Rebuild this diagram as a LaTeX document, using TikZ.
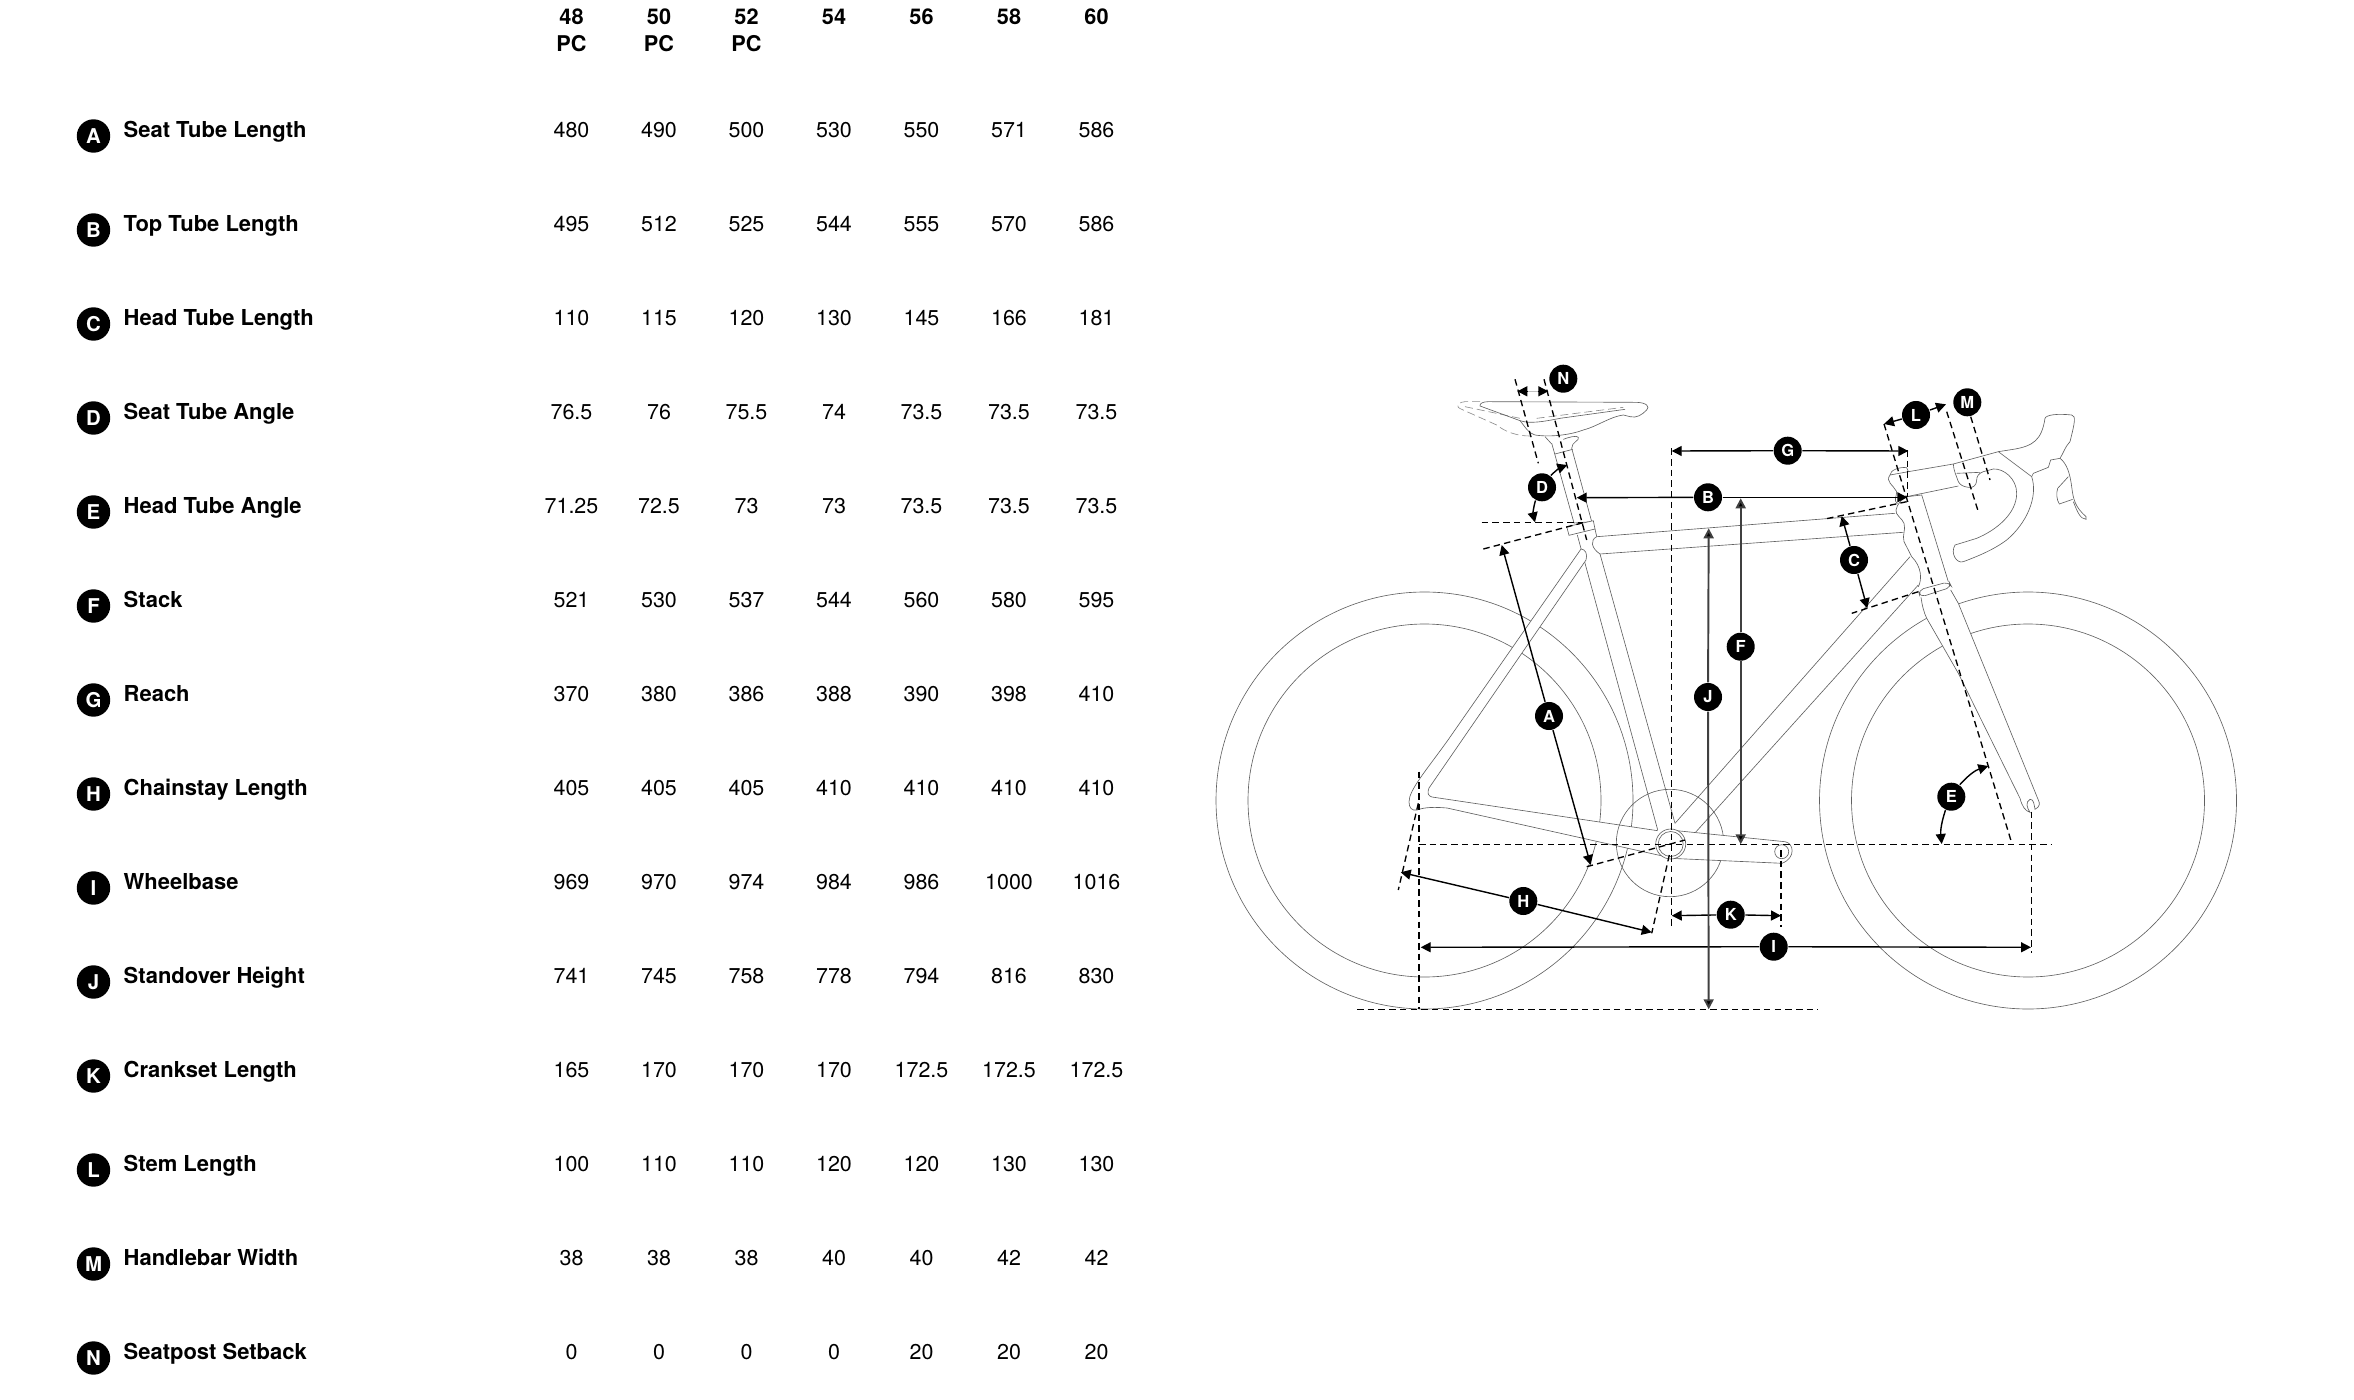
\documentclass[tikz,border=0pt]{standalone}
\usepackage{fontspec}
\setmainfont{TeX Gyre Heros}
\usetikzlibrary{arrows.meta}

\begin{document}
\begin{tikzpicture}[x=0.01cm,y=-0.01cm,
    frame part/.style={draw=black!62,line width=0.18pt},
    ghost part/.style={draw=black!45,line width=0.18pt,dash pattern=on 0.08cm off 0.04cm},
    guide/.style={draw=black,line width=0.38pt,dash pattern=on 0.065cm off 0.042cm},
    dim/.style={->,>={Triangle[length=0.1cm,width=0.1cm]},line width=0.4pt},
    dim soft/.style={dim,draw=black!75,line width=0.55pt},
    main badge/.style={circle,fill=black,text=white,inner sep=0pt,minimum size=0.28cm,font=\bfseries\fontsize{4.7}{4.7}\selectfont},
    key badge/.style={circle,fill=black,text=white,inner sep=0pt,minimum size=0.334cm,font=\bfseries\fontsize{5.8}{5.8}\selectfont},
    row title/.style={anchor=base west,inner sep=0pt,font=\bfseries\fontsize{6.25}{7}\selectfont},
    row value/.style={anchor=base,inner sep=0pt,font=\fontsize{6.1}{7}\selectfont},
    col head/.style={anchor=base,inner sep=0pt,font=\bfseries\fontsize{6.17}{7}\selectfont}]
    \path[use as bounding box] (0,0) rectangle (2354,1400);

    % table
    \foreach \s [count=\c from 0] in {48,50,52,54,56,58,60}
        \node[col head] (head\s) at (571.5+87.5*\c,25) {\s};
    \foreach \s [count=\c from 0] in {48,50,52}
        \node[col head] (pc\s) at (571.5+87.5*\c,52) {PC};

    \foreach \k/\t/\vals [count=\r from 0] in {
        A/Seat Tube Length/{480,490,500,530,550,571,586},
        B/Top Tube Length/{495,512,525,544,555,570,586},
        C/Head Tube Length/{110,115,120,130,145,166,181},
        D/Seat Tube Angle/{76.5,76,75.5,74,73.5,73.5,73.5},
        E/Head Tube Angle/{71.25,72.5,73,73,73.5,73.5,73.5},
        F/Stack/{521,530,537,544,560,580,595},
        G/Reach/{370,380,386,388,390,398,410},
        H/Chainstay Length/{405,405,405,410,410,410,410},
        I/Wheelbase/{969,970,974,984,986,1000,1016},
        J/Standover Height/{741,745,758,778,794,816,830},
        K/Crankset Length/{165,170,170,170,172.5,172.5,172.5},
        L/Stem Length/{100,110,110,120,120,130,130},
        M/Handlebar Width/{38,38,38,40,40,42,42},
        N/Seatpost Setback/{0,0,0,0,20,20,20}} {
        \node[key badge] (key\k) at (93.5,136+94*\r) {\k};
        \node[row title] (title\k) at (123,137.7+94*\r) {\t};
        \foreach \v [count=\c from 0] in \vals
            \node[row value] (val\k\c) at (571.5+87.5*\c,137.7+94*\r) {\v};
    }

    % wheels
    \draw[frame part] (1424.5,800.5) circle (208.5);
    \draw[frame part] (1424.5,800.5) circle (176.5);
    \draw[frame part] (2028,800.5) circle (208.5);
    \draw[frame part] (2028,800.5) circle (176.5);

    % seat tube and top tube
    \fill[white] (1577.3,535) -- (1657.7,830) -- (1675,823.3) -- (1600,554) -- cycle;
    \draw[frame part] (1577.3,535) -- (1657.7,830);
    \draw[frame part] (1600,554) -- (1675,823.3);
    \draw[frame part] (1595,529) -- (1596.7,536.7);
    \draw[frame part,fill=white] (1895,513.3) -- (1596.7,536.7) .. controls (1590,540) and (1591,548) .. (1600,554) -- (1903.3,532.3);

    % stays
    \draw[frame part,fill=white] (1657.7,830.7) -- (1432,797) .. controls (1428,796) and (1427,793) .. (1429,788) -- (1586,560)
        .. controls (1588,554) and (1585,549) .. (1581,549) -- (1448,740) .. controls (1425,772) and (1409,790) .. (1409,802)
        .. controls (1409,808) and (1412,811) .. (1417,810) .. controls (1425,807) and (1435,807) .. (1447,808) -- (1667,857);

    % down tube, fork, head tube
    \fill[white] (1910,556.7) -- (1675,823.3) -- (1685,844) -- (1918.3,585) -- cycle;
    \draw[frame part] (1910,556.7) -- (1675,823.3);
    \draw[frame part] (1918.3,585) -- (1685,844);
    \draw[frame part,fill=white] (1921,597.3) .. controls (1922,605) and (1924,613) .. (1926.7,618.3) -- (1958.3,673.3) -- (2020,798.3)
        .. controls (2022,806) and (2025,811) .. (2030,812.3) .. controls (2027,808) and (2025,802) .. (2030,799.3)
        .. controls (2034,799) and (2034,805) .. (2035,809.3) .. controls (2040,807) and (2040,803) .. (2038.3,800) -- (1958.3,603.3) -- (1950.7,590);
    \draw[frame part,fill=white] (1918.3,586.7) .. controls (1922,580) and (1922,567) .. (1911.7,556.7) -- (1904,541.7)
        .. controls (1902,535) and (1906,530) .. (1904,523.3) .. controls (1902,518) and (1895,515) .. (1896,510)
        .. controls (1897,504) and (1902,499) .. (1906.7,496.7) -- (1921.7,495) -- (1948.3,581.7);
    \draw[frame part,fill=white,rounded corners=1.5] (1918.3,590) -- (1949,581.7) -- (1951.7,587) -- (1920,597.3) -- cycle;

    % seatpost and collar
    \draw[frame part,fill=white] (1551.7,443.3) -- (1574,523) -- (1591.7,521.7) -- (1571.7,448.3);
    \draw[frame part,fill=white] (1566.7,526.7) -- (1593.3,520.7) -- (1595,529) -- (1569,535.3) -- cycle;

    % saddle
    \begin{scope}[shift={(1420,350)},scale=1/3]
        \draw[ghost part] (180,155) -- (135,155) .. controls (110,158) and (105,170) .. (125,178) -- (230,225) .. controls (255,245) and (290,258) .. (330,258);
        \draw[ghost part] (135,170) -- (300,205);
        \draw[ghost part] (350,205) -- (610,172);
        \draw[frame part] (180,168) .. controls (178,160) and (190,155) .. (205,155) -- (650,157) .. controls (680,158) and (690,170) .. (680,180)
            .. controls (665,195) and (650,205) .. (630,200) -- (610,195) .. controls (570,200) and (530,230) .. (490,240)
            .. controls (450,255) and (390,262) .. (345,255) .. controls (325,250) and (315,230) .. (300,212) -- cycle;
        \draw[frame part] (300,212) .. controls (330,222) and (370,215) .. (420,205) -- (615,178);
        \draw[frame part] (375,260) -- (395,282);
        \draw[frame part] (430,268) .. controls (445,262) and (470,255) .. (475,262) .. controls (480,272) and (455,275) .. (455,295);
        \draw[frame part] (405,312) -- (458,298);
    \end{scope}

    % stem and bars
    \begin{scope}[shift={(1780,360)},scale=1/3]
        \draw[frame part] (520,312) -- (385,335) -- (330,345) .. controls (330,330) and (360,320) .. (380,323) -- (385,335);
        \draw[frame part] (330,345) .. controls (315,365) and (340,375) .. (350,395) .. controls (350,410) and (340,420) .. (352,432);
        \draw[frame part] (380,410) -- (535,378);
        \draw[frame part] (520,312) -- (655,275) -- (700,268) .. controls (760,258) and (785,240) .. (795,175) .. controls (798,165) and (830,160) .. (875,165)
            .. controls (888,168) and (885,185) .. (870,245);
        \draw[frame part] (655,275) -- (755,350);
        \draw[frame part] (755,350) -- (760,340) -- (805,322) -- (812,300) -- (840,295) .. controls (850,280) and (855,260) .. (870,245);
        \draw[frame part] (840,295) .. controls (860,310) and (870,340) .. (875,380) .. controls (880,420) and (885,440) .. (918,470) -- (918,478)
            .. controls (900,478) and (890,450) .. (880,425);
        \draw[frame part] (865,350) -- (833,385) .. controls (828,400) and (830,420) .. (838,432) -- (878,418);
        \draw[frame part] (755,350) .. controls (775,410) and (740,490) .. (680,540) .. controls (640,570) and (590,590) .. (550,605)
            .. controls (530,612) and (510,580) .. (525,555) -- (590,535) .. controls (650,510) and (710,460) .. (710,400)
            .. controls (710,355) and (670,325) .. (640,327) -- (610,335) .. controls (595,340) and (590,350) .. (590,360)
            .. controls (590,375) and (580,385) .. (565,382) .. controls (550,380) and (540,375) .. (535,365) .. controls (530,350) and (520,330) .. (520,312);
        \draw[frame part] (530,340) -- (600,337);
    \end{scope}

    % chainring and crank
    \draw[frame part] (1670,843) circle (53.7);
    \draw[frame part,fill=white] (1670,830) -- (1785,841.7) .. controls (1794,843) and (1796,858) .. (1782,863.3) -- (1670,858.3) -- cycle;
    \draw[frame part,fill=white] (1670.7,844) circle (15);
    \draw[frame part] (1670.7,844) circle (12.5);
    \draw[frame part] (1781.7,851.7) circle (7);

    % guide lines
    \foreach \n/\ax/\ay/\bx/\by in {
        bb/1419/844.3/2052/844.3,
        ground/1357/1009.3/1818/1009.3,
        axlerear/1419/771.7/1419/1009.3,
        stayrear/1418.3/803.3/1398.3/890,
        staybb/1669.3/855/1651.7/933.3,
        bbup/1671.7/448.3/1671.7/928.3,
        crankend/1781/850/1781/926.7,
        axlefront/2031.7/811.7/2031.7/953,
        steer/1884/424/2011.7/843,
        reachend/1907.3/450/1907.3/497,
        barone/1946.7/411.7/1978.3/511.7,
        bartwo/1970.7/416.7/1990/480,
        headtop/1906.7/501.7/1825/519,
        headlow/1918.3/591.7/1851.7/613.3,
        seatlevel/1481.7/522.7/1583.3/522.7,
        seattop/1483.3/549/1583/522.7,
        setbackone/1515/379.3/1538.3/463.3,
        setbacktwo/1544/379.3/1586.7/540,
        seatlow/1586.7/866.7/1685/840} {
        \coordinate (\n a) at (\ax,\ay);
        \coordinate (\n b) at (\bx,\by);
        \draw[guide] (\n a) -- (\n b);
    }

    % badges on the bike
    \node[main badge] (A) at (1549,716) {A};
    \node[main badge] (B) at (1708,497.3) {B};
    \node[main badge] (C) at (1854,560) {C};
    \node[main badge] (D) at (1542,487.3) {D};
    \node[main badge] (E) at (1951.3,796.7) {E};
    \node[main badge] (F) at (1740.7,646.7) {F};
    \node[main badge] (G) at (1787.7,450.7) {G};
    \node[main badge] (H) at (1523.3,901) {H};
    \node[main badge] (I) at (1773.7,946.7) {I};
    \node[main badge] (J) at (1708,697) {J};
    \node[main badge] (K) at (1730.7,914.7) {K};
    \node[main badge] (L) at (1916,415) {L};
    \node[main badge] (M) at (1967.3,402.3) {M};
    \node[main badge] (N) at (1563.3,378.7) {N};

    % arrow ends
    \coordinate (Atop) at (1501.7,545);
    \coordinate (Alow) at (1590.7,865);
    \coordinate (Bleft) at (1576.7,497.7);
    \coordinate (Bright) at (1907.3,497.3);
    \coordinate (Ctop) at (1841.7,516);
    \coordinate (Clow) at (1867.3,608.3);
    \coordinate (Dup) at (1567.3,465);
    \coordinate (Ddown) at (1535,522.3);
    \coordinate (Eup) at (1988.3,766);
    \coordinate (Edown) at (1941.7,844);
    \coordinate (Ftop) at (1740.7,498.3);
    \coordinate (Flow) at (1740.7,844.3);
    \coordinate (Gleft) at (1671.7,451);
    \coordinate (Gright) at (1908.3,451);
    \coordinate (Hleft) at (1400.7,872.3);
    \coordinate (Hright) at (1651.7,932.3);
    \coordinate (Ileft) at (1420.7,947.3);
    \coordinate (Iright) at (2031,947.3);
    \coordinate (Jtop) at (1708.7,528.3);
    \coordinate (Jlow) at (1708.7,1009.3);
    \coordinate (Kleft) at (1671.7,915.7);
    \coordinate (Kright) at (1781,915.7);
    \coordinate (Lleft) at (1884,424);
    \coordinate (Lright) at (1946,404.3);
    \coordinate (Nleft) at (1517.3,391.3);
    \coordinate (Nlbase) at (1528,391.3);
    \coordinate (Nrbase) at (1537.5,391.3);
    \coordinate (Nright) at (1548.3,391.3);

    \path[dim]
        (A) edge (Atop)
        (A) edge (Alow)
        (B) edge (Bleft)
        (B) edge (Bright)
        (C) edge (Ctop)
        (C) edge (Clow)
        (D) edge[bend left=12] (Dup)
        (D) edge[bend right=15] (Ddown)
        (E) edge[bend left=15] (Eup)
        (E) edge[bend right=12] (Edown)
        (G) edge (Gleft)
        (G) edge (Gright)
        (H) edge (Hleft)
        (H) edge (Hright)
        (I) edge (Ileft)
        (I) edge (Iright)
        (K) edge (Kleft)
        (K) edge (Kright)
        (L) edge (Lleft)
        (L) edge (Lright)
        (Nlbase) edge (Nleft)
        (Nrbase) edge (Nright)
        ;
    \path[dim soft]
        (F) edge (Ftop)
        (F) edge (Flow)
        (J) edge (Jtop)
        (J) edge (Jlow)
        ;
    \draw[black!25,line width=0.4pt] (Nlbase) -- (Nrbase);
\end{tikzpicture}
\end{document}
